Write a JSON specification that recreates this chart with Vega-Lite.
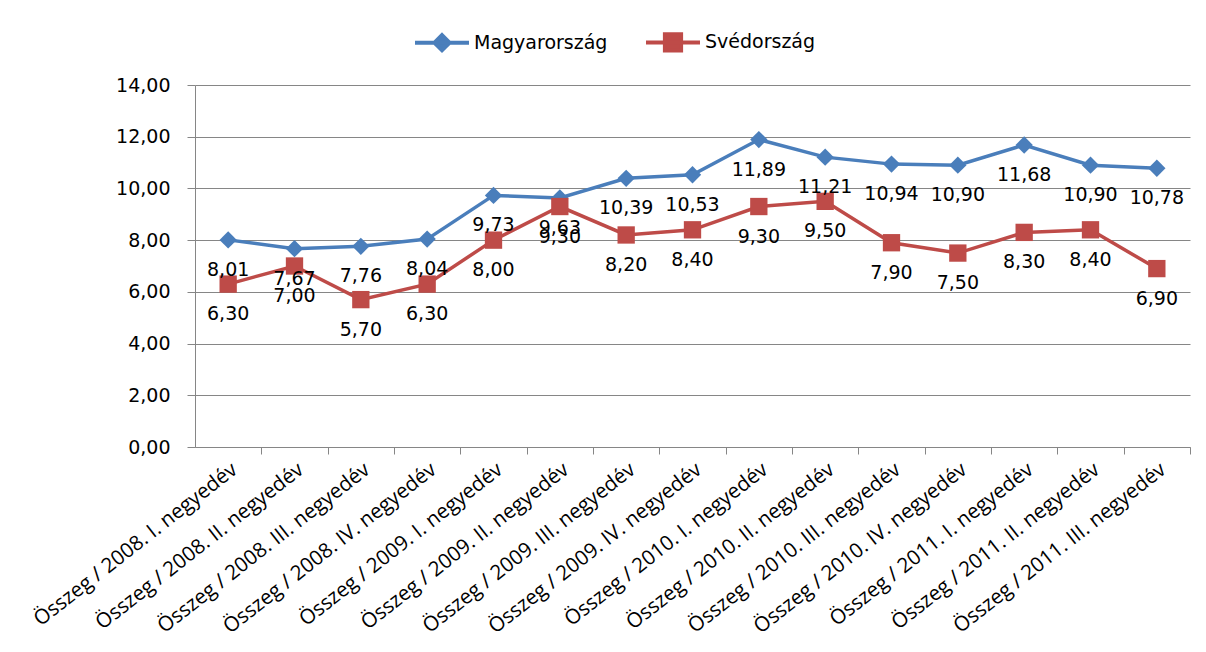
{
  "$schema": "https://vega.github.io/schema/vega-lite/v6.json",
  "width": 995,
  "height": 362,
  "autosize": {"type": "none"},
  "padding": {"left": 195, "top": 85, "right": 16, "bottom": 205},
  "background": "white",
  "config": {
    "locale": {"number": {"decimal": ",", "thousands": " ", "grouping": [3], "currency": ["", ""]}},
    "view": {"stroke": null}
  },
  "datasets": {
    "adat": [
      {"negyedev": "Összeg / 2008. I. negyedév", "orszag": "Magyarország", "ertek": 8.01},
      {"negyedev": "Összeg / 2008. II. negyedév", "orszag": "Magyarország", "ertek": 7.67},
      {"negyedev": "Összeg / 2008. III. negyedév", "orszag": "Magyarország", "ertek": 7.76},
      {"negyedev": "Összeg / 2008. IV. negyedév", "orszag": "Magyarország", "ertek": 8.04},
      {"negyedev": "Összeg / 2009. I. negyedév", "orszag": "Magyarország", "ertek": 9.73},
      {"negyedev": "Összeg / 2009. II. negyedév", "orszag": "Magyarország", "ertek": 9.63},
      {"negyedev": "Összeg / 2009. III. negyedév", "orszag": "Magyarország", "ertek": 10.39},
      {"negyedev": "Összeg / 2009. IV. negyedév", "orszag": "Magyarország", "ertek": 10.53},
      {"negyedev": "Összeg / 2010. I. negyedév", "orszag": "Magyarország", "ertek": 11.89},
      {"negyedev": "Összeg / 2010. II. negyedév", "orszag": "Magyarország", "ertek": 11.21},
      {"negyedev": "Összeg / 2010. III. negyedév", "orszag": "Magyarország", "ertek": 10.94},
      {"negyedev": "Összeg / 2010. IV. negyedév", "orszag": "Magyarország", "ertek": 10.90},
      {"negyedev": "Összeg / 2011. I. negyedév", "orszag": "Magyarország", "ertek": 11.68},
      {"negyedev": "Összeg / 2011. II. negyedév", "orszag": "Magyarország", "ertek": 10.90},
      {"negyedev": "Összeg / 2011. III. negyedév", "orszag": "Magyarország", "ertek": 10.78},
      {"negyedev": "Összeg / 2008. I. negyedév", "orszag": "Svédország", "ertek": 6.30},
      {"negyedev": "Összeg / 2008. II. negyedév", "orszag": "Svédország", "ertek": 7.00},
      {"negyedev": "Összeg / 2008. III. negyedév", "orszag": "Svédország", "ertek": 5.70},
      {"negyedev": "Összeg / 2008. IV. negyedév", "orszag": "Svédország", "ertek": 6.30},
      {"negyedev": "Összeg / 2009. I. negyedév", "orszag": "Svédország", "ertek": 8.00},
      {"negyedev": "Összeg / 2009. II. negyedév", "orszag": "Svédország", "ertek": 9.30},
      {"negyedev": "Összeg / 2009. III. negyedév", "orszag": "Svédország", "ertek": 8.20},
      {"negyedev": "Összeg / 2009. IV. negyedév", "orszag": "Svédország", "ertek": 8.40},
      {"negyedev": "Összeg / 2010. I. negyedév", "orszag": "Svédország", "ertek": 9.30},
      {"negyedev": "Összeg / 2010. II. negyedév", "orszag": "Svédország", "ertek": 9.50},
      {"negyedev": "Összeg / 2010. III. negyedév", "orszag": "Svédország", "ertek": 7.90},
      {"negyedev": "Összeg / 2010. IV. negyedév", "orszag": "Svédország", "ertek": 7.50},
      {"negyedev": "Összeg / 2011. I. negyedév", "orszag": "Svédország", "ertek": 8.30},
      {"negyedev": "Összeg / 2011. II. negyedév", "orszag": "Svédország", "ertek": 8.40},
      {"negyedev": "Összeg / 2011. III. negyedév", "orszag": "Svédország", "ertek": 6.90}
    ]
  },
  "data": {"name": "adat"},
  "encoding": {
    "x": {
      "field": "negyedev",
      "type": "nominal",
      "sort": null,
      "scale": {"type": "point", "padding": 0.5},
      "axis": {
        "title": null,
        "labelAngle": -38,
        "tickOffset": 33.17,
        "labelOffset": -33.17,
        "tickSize": 7,
        "domainColor": "#868686",
        "tickColor": "#868686",
        "labelFont": "Open Sans",
        "labelFontSize": 20.5,
        "labelColor": "#000000",
        "labelPadding": 5,
        "labelLimit": 0,
        "grid": false
      }
    },
    "y": {
      "field": "ertek",
      "type": "quantitative",
      "scale": {"domain": [0, 14], "nice": false, "zero": true},
      "axis": {
        "title": null,
        "values": [0, 2, 4, 6, 8, 10, 12, 14],
        "format": ".2f",
        "grid": true,
        "gridColor": "#868686",
        "gridOpacity": 1,
        "domainColor": "#868686",
        "tickColor": "#868686",
        "tickSize": 8,
        "labelPadding": 17,
        "labelFont": "DejaVu Sans",
        "labelFontSize": 19,
        "labelColor": "#000000"
      }
    },
    "color": {
      "field": "orszag",
      "type": "nominal",
      "scale": {"domain": ["Magyarország", "Svédország"], "range": ["#4A7EBB", "#BE4B48"]},
      "legend": {
        "title": null,
        "orient": "none",
        "legendX": 218,
        "legendY": -72,
        "direction": "horizontal",
        "symbolType": "M-1,0L1,0",
        "symbolSize": 2916,
        "symbolStrokeWidth": 4,
        "labelFont": "DejaVu Sans",
        "labelFontSize": 19,
        "labelColor": "#000000",
        "columnPadding": 30,
        "labelOffset": 3,
        "encode": {
          "symbols": {
            "update": {
              "shape": {"signal": "datum.value === 'Magyarország' ? 'M-1,0L1,0M0,-0.28L0.28,0L0,0.28L-0.28,0Z' : 'M-1,0L1,0M-0.3,-0.3L0.3,-0.3L0.3,0.3L-0.3,0.3Z'"},
              "fill": {"scale": "color", "field": "value"},
              "stroke": {"scale": "color", "field": "value"},
              "opacity": {"value": 1},
              "fillOpacity": {"value": 1}
            }
          }
        }
      }
    }
  },
  "layer": [
    {"mark": {"type": "line", "strokeWidth": 3.5}},
    {
      "transform": [{"filter": "datum.orszag === 'Magyarország'"}],
      "mark": {"type": "point", "shape": "diamond", "filled": true, "opacity": 1, "size": 300}
    },
    {
      "transform": [{"filter": "datum.orszag === 'Svédország'"}],
      "mark": {"type": "point", "shape": "square", "filled": true, "opacity": 1, "size": 300}
    },
    {
      "mark": {"type": "text", "dy": 30, "font": "DejaVu Sans", "fontSize": 19},
      "encoding": {
        "text": {"field": "ertek", "type": "quantitative", "format": ".2f"},
        "color": {"value": "#000000"}
      }
    }
  ]
}
